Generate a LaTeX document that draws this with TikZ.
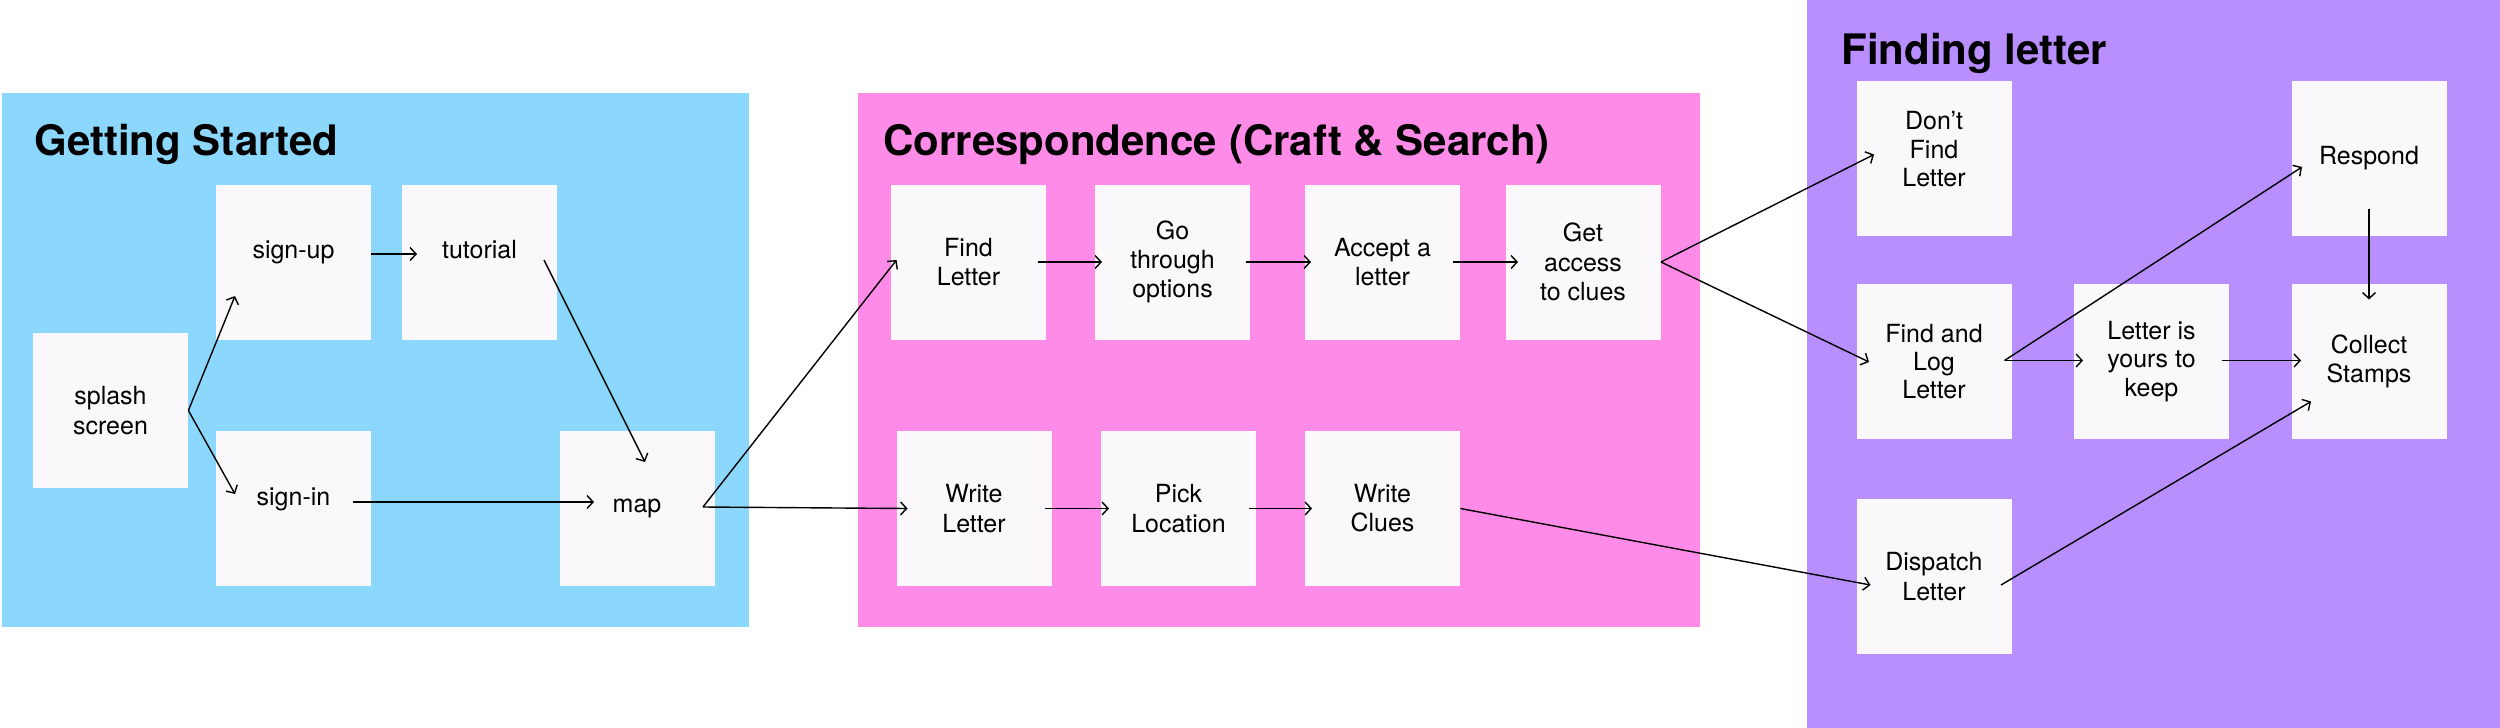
\documentclass[tikz,border=0pt]{standalone}
\usepackage{fontspec}
\setmainfont{TeX Gyre Heros}
\usetikzlibrary{arrows.meta,calc}
\definecolor{gsblue}{RGB}{140,216,253}
\definecolor{crpink}{RGB}{255,139,232}
\definecolor{flpurple}{RGB}{185,142,255}
\definecolor{boxfill}{RGB}{250,248,250}
\newcommand{\upby}[2]{\raisebox{#1}[\height][\depth]{\begin{tabular}{@{}c@{}}#2\end{tabular}}}
\tikzset{
  box/.style={fill=boxfill, minimum width=77.5pt, minimum height=77.5pt, inner sep=0pt, align=center, font=\fontsize{12.5}{14.6}\selectfont},
  ttl/.style={anchor=base west, inner sep=0pt, font=\fontsize{21}{25}\selectfont\bfseries},
  conn/.style={line width=0.7pt, -{Straight Barb[length=3pt,width=6.5pt,line width=0.7pt]}},
  link/.style={line width=0.7pt}
}
\begin{document}
\begin{tikzpicture}[x=0.5pt,y=-0.5pt]
\useasboundingbox (0,0) rectangle (2500,728);
\fill[white] (0,0) rectangle (2500,728);
% panels
\fill[gsblue] (2,93) rectangle (749,627);
\fill[crpink] (858,93) rectangle (1700,627);
\fill[flpurple] (1807,0) rectangle (2500,728);
% titles
\node[ttl] (t1) at (34,155) {Getting Started};
\node[ttl] (t2) at (883,155) {Correspondence (Craft \& Search)};
\node[ttl] (t3) at (1841,64) {Finding letter};
% boxes: getting started
\node[box] (splash) at (110.5,410.5) {splash\\screen};
\node[box] (signup) at (293.5,262) {\upby{4.5pt}{sign-up}};
\node[box] (tutorial) at (479.5,262) {\upby{4.5pt}{tutorial}};
\node[box] (signin) at (293.5,508.5) {\upby{4.5pt}{sign-in}};
\node[box] (map) at (637,508.5) {map};
% correspondence
\node[box] (findL) at (968.5,262) {Find\\Letter};
\node[box] (go) at (1172.5,262) {Go\\through\\options};
\node[box] (accept) at (1382.5,262) {Accept a\\letter};
\node[box] (getacc) at (1583,262) {Get\\access\\to clues};
\node[box] (writeL) at (974,508.5) {Write\\Letter};
\node[box] (pick) at (1178.5,508.5) {Pick\\Location};
\node[box] (writeC) at (1382.5,508.5) {Write\\Clues};
% finding letter
\node[box, font=\fontsize{12.5}{14.2}\selectfont] (dont) at (1934,158.5) {\upby{3pt}{Don’t\\Find\\Letter}};
\node[box, font=\fontsize{12.5}{14.2}\selectfont] (findlog) at (1934,361.5) {Find and\\Log\\Letter};
\node[box] (dispatch) at (1934,576.5) {Dispatch\\Letter};
\node[box, font=\fontsize{12.5}{14.2}\selectfont] (yours) at (2151.5,361.5) {Letter is\\yours to\\keep};
\node[box] (respond) at (2369,158.5) {Respond};
\node[box] (collect) at (2369,361.5) {Collect\\Stamps};
% connectors
\draw[conn] (splash.east) -- ($(signup.center)+(-58.5,34)$);
\draw[conn] (splash.east) -- ($(signin.center)+(-58.5,-14.5)$);
\draw[conn] ($(signup.east)+(0,-8)$) -- ($(tutorial.center)+(-62.5,-8)$);
\draw[conn] ($(tutorial.center)+(64.5,-2)$) -- ($(map.center)+(8,-46.5)$);
\draw[conn] ($(signin.center)+(59.5,-6.5)$) -- ($(map.center)+(-43,-6.5)$);
\draw[conn] ($(map.center)+(66,-1.5)$) -- ($(findL.center)+(-72,-2)$);
\draw[conn] ($(map.center)+(66,-1.5)$) -- ($(writeL.center)+(-66.5,0)$);
\draw[conn] ($(findL.center)+(69.5,0)$) -- ($(go.center)+(-70.5,0)$);
\draw[conn] ($(go.center)+(73.5,0)$) -- ($(accept.center)+(-71.5,0)$);
\draw[conn] ($(accept.center)+(70.5,0)$) -- ($(getacc.center)+(-65,0)$);
\draw[conn] ($(writeL.center)+(71,0)$) -- ($(pick.center)+(-69.5,0)$);
\draw[conn] ($(pick.center)+(70.5,0)$) -- ($(writeC.center)+(-70.5,0)$);
\draw[conn] (getacc.east) -- ($(dont.center)+(-60,-4)$);
\draw[conn] (getacc.east) -- ($(findlog.center)+(-65,0.5)$);
\draw[conn] (writeC.east) -- ($(dispatch.center)+(-63.5,8.5)$);
\draw[conn] ($(findlog.center)+(70.5,-1)$) -- ($(respond.center)+(-67,8.5)$);
\draw[conn] ($(findlog.center)+(70.5,-1)$) -- ($(yours.center)+(-68.5,-1)$);
\draw[conn] ($(yours.center)+(70.5,-1)$) -- ($(collect.center)+(-68,-1)$);
\draw[conn] ($(respond.center)+(0,50.5)$) -- ($(collect.center)+(0,-62)$);
\draw[conn] ($(dispatch.center)+(67,8.5)$) -- ($(collect.center)+(-58,40)$);
\end{tikzpicture}
\end{document}
